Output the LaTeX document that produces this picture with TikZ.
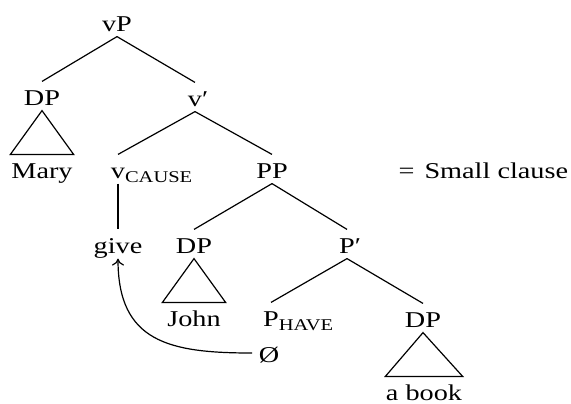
\documentclass[tikz,border=0pt]{standalone}
\usepackage{fontspec}
\setmainfont[FakeStretch=1.25]{Liberation Serif}
\usetikzlibrary{arrows.meta}
\newcommand{\featsub}[1]{\rlap{\raisebox{-2.2pt}{\fontsize{8.2}{9}\selectfont #1}}}

\begin{document}
\begin{tikzpicture}[x=0.5pt, y=-0.5pt, line width=0.6pt,
    cat/.style={anchor=base, inner xsep=3pt, inner ysep=2pt, text height=9.5pt,
      text depth=0.5pt, font=\fontsize{11.3}{13}\selectfont},
    leaf/.style={cat, inner xsep=0pt, minimum width=31pt}]
  \useasboundingbox (0,0) rectangle (571,403);
  % labels
  \node[cat] (vp) at (117,31) {vP};
  \node[cat] (dpm) at (42,105) {DP};
  \node[cat] (vbar) at (195,106) {v\rlap{′}};
  \node[leaf] (mary) at (42,178) {Mary};
  \node[cat] (vcause) at (118,178) {v\featsub{CAUSE}};
  \node[cat] (pp) at (272,178) {PP};
  \node[cat, anchor=base west] (sc) at (392,178) {=\hspace{5pt}Small clause};
  \node[cat] (give) at (118,253) {give};
  \node[cat] (dpj) at (194,253) {DP};
  \node[cat] (pbar) at (347,253) {P\rlap{′}};
  \node[leaf] (john) at (194,326) {John};
  \node[cat] (phave) at (271,326) {P\featsub{HAVE}};
  \node[cat] (dpb) at (423,327) {DP};
  \node[cat] (zero) at (269,362) {Ø};
  \node[leaf] (book) at (424,400) {a book};
  % branches
  \draw (vp.south) -- (dpm.north);
  \draw (vp.south) -- (vbar.north);
  \draw (vbar.south) -- (vcause.north);
  \draw (vbar.south) -- (pp.north);
  \draw (pp.south) -- (dpj.north);
  \draw (pp.south) -- (pbar.north);
  \draw (pbar.south) -- (phave.north);
  \draw (pbar.south) -- (dpb.north);
  \draw (vcause.south) -- (give.north);
  % triangles
  \draw (dpm.south) -- (mary.north west) -- (mary.north east) -- cycle;
  \draw (dpj.south) -- (john.north west) -- (john.north east) -- cycle;
  \draw (dpb.south) -- (book.north west) -- (book.north east) -- cycle;
  % movement
  \draw[-{To[length=3.5pt,width=6pt]}] (zero.west) to[out=180, in=-90, looseness=1.3] (give.south);
\end{tikzpicture}
\end{document}
